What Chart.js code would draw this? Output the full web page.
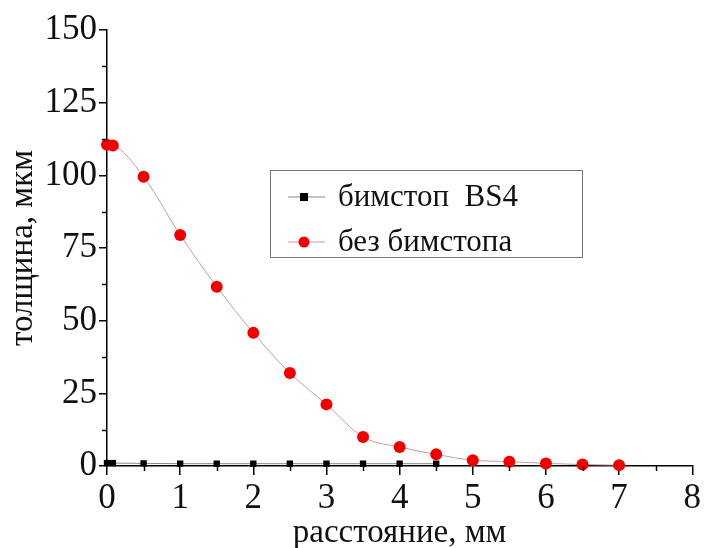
<!DOCTYPE html>
<html>
<head>
<meta charset="utf-8">
<script src="https://cdn.jsdelivr.net/npm/chart.js@4.4.1/dist/chart.umd.min.js"></script>
<style>
  html, body { margin: 0; padding: 0; background: #fff; }
  #wrap { width: 704px; height: 548px; }
</style>
</head>
<body>
<div id="wrap"><canvas id="thicknessChart" width="704" height="548"></canvas></div>
<script>
// distances, mm
const redX = [0, 0.08, 0.5, 1, 1.5, 2, 2.5, 3, 3.5, 4, 4.5, 5, 5.5, 6, 6.5, 7];
// thickness without beamstop, um
const redY = [110.5, 110.3, 99.5, 79.5, 61.7, 45.8, 32, 21.2, 10, 6.5, 4, 2, 1.5, 0.9, 0.5, 0.3];
// beamstop BS4
const blackX = [0, 0.08, 0.5, 1, 1.5, 2, 2.5, 3, 3.5, 4, 4.5];
const blackY = [1, 1, 0.9, 0.8, 0.8, 0.8, 0.8, 0.8, 0.8, 0.8, 0.8];

const legendLabels = ['бимстоп  BS4', 'без бимстопа'];
const serif = '"Liberation Serif", "DejaVu Serif", serif';

const toPoints = (xs, ys) => xs.map((x, i) => ({ x: x, y: ys[i] }));

// minor ticks + legend box
const extras = {
    id: 'extras',
    afterDraw(chart) {
        const c = chart.ctx;
        const xs = chart.scales.x, ys = chart.scales.y;
        c.save();
        c.strokeStyle = '#000';
        c.lineWidth = 1.5;
        c.beginPath();
        for (let v = 12.5; v < 150; v += 25) {
            const p = Math.round(ys.getPixelForValue(v)) + 0.5;
            c.moveTo(xs.left - 5, p);
            c.lineTo(xs.left, p);
        }
        for (let v = 0.5; v < 8; v += 1) {
            const p = Math.round(xs.getPixelForValue(v)) + 0.5;
            c.moveTo(p, ys.bottom);
            c.lineTo(p, ys.bottom + 5);
        }
        c.stroke();

        // legend
        const bx = 270, by = 170, bw = 312, bh = 87;
        c.strokeStyle = '#777';
        c.lineWidth = 1;
        c.strokeRect(bx + 0.5, by + 0.5, bw, bh);
        c.font = '31px ' + serif;
        c.textBaseline = 'middle';
        const rows = [by + 27, by + 72];
        chart.data.datasets.forEach((ds, i) => {
            const y = rows[i];
            c.strokeStyle = ds.borderColor;
            c.lineWidth = 1;
            c.beginPath();
            c.moveTo(bx + 18, y);
            c.lineTo(bx + 55, y);
            c.stroke();
            c.fillStyle = ds.pointBackgroundColor;
            if (ds.pointStyle === 'rect') {
                c.fillRect(bx + 30, y - 4, 8, 8);
            } else {
                c.beginPath();
                c.arc(bx + 34, y, 5.5, 0, Math.PI * 2);
                c.fill();
            }
            c.fillStyle = '#111';
            c.fillText(legendLabels[i], bx + 68, y + 1);
        });
        c.restore();
    }
};

new Chart(document.getElementById('thicknessChart').getContext('2d'), {
    type: 'scatter',
    data: {
        datasets: [{
            label: legendLabels[0],
            data: toPoints(blackX, blackY),
            showLine: true,
            borderColor: '#888',
            borderWidth: 1,
            pointStyle: 'rect',
            pointRadius: 4.5,
            pointBackgroundColor: '#000',
            pointBorderColor: '#000',
            pointBorderWidth: 0,
            clip: false,
            order: 1
        }, {
            label: legendLabels[1],
            data: toPoints(redX, redY),
            showLine: true,
            borderColor: '#c99a9a',
            borderWidth: 1,
            cubicInterpolationMode: 'monotone',
            pointStyle: 'circle',
            pointRadius: 6,
            pointBackgroundColor: '#ee0000',
            pointBorderColor: '#ee0000',
            pointBorderWidth: 0,
            clip: false,
            order: 0
        }]
    },
    options: {
        responsive: false,
        animation: false,
        layout: { padding: { top: 30, right: 11, left: 0, bottom: 0 } },
        plugins: { legend: { display: false }, tooltip: { enabled: false } },
        scales: {
            x: {
                type: 'linear',
                min: 0, max: 8,
                afterFit(s) { s.height = 82; },
                border: { display: true, color: '#000', width: 1.5 },
                grid: { drawOnChartArea: false, drawTicks: true, tickLength: 9, color: '#000', lineWidth: 1.5 },
                ticks: { stepSize: 1, color: '#111', padding: 3, font: { family: serif, size: 35 } },
                title: { display: true, text: 'расстояние, мм', color: '#111', padding: { top: 0, bottom: -5 }, font: { family: serif, size: 33 } }
            },
            y: {
                type: 'linear',
                min: 0, max: 150,
                afterFit(s) { s.width = 107; },
                border: { display: true, color: '#000', width: 1.5 },
                grid: { drawOnChartArea: false, drawTicks: true, tickLength: 8, color: '#000', lineWidth: 1.5 },
                ticks: { stepSize: 25, color: '#111', padding: 2, font: { family: serif, size: 35 } },
                title: { display: true, text: 'толщина, мкм', color: '#111', padding: { bottom: 0 }, font: { family: serif, size: 33 } }
            }
        }
    },
    plugins: [extras]
});
</script>
</body>
</html>
